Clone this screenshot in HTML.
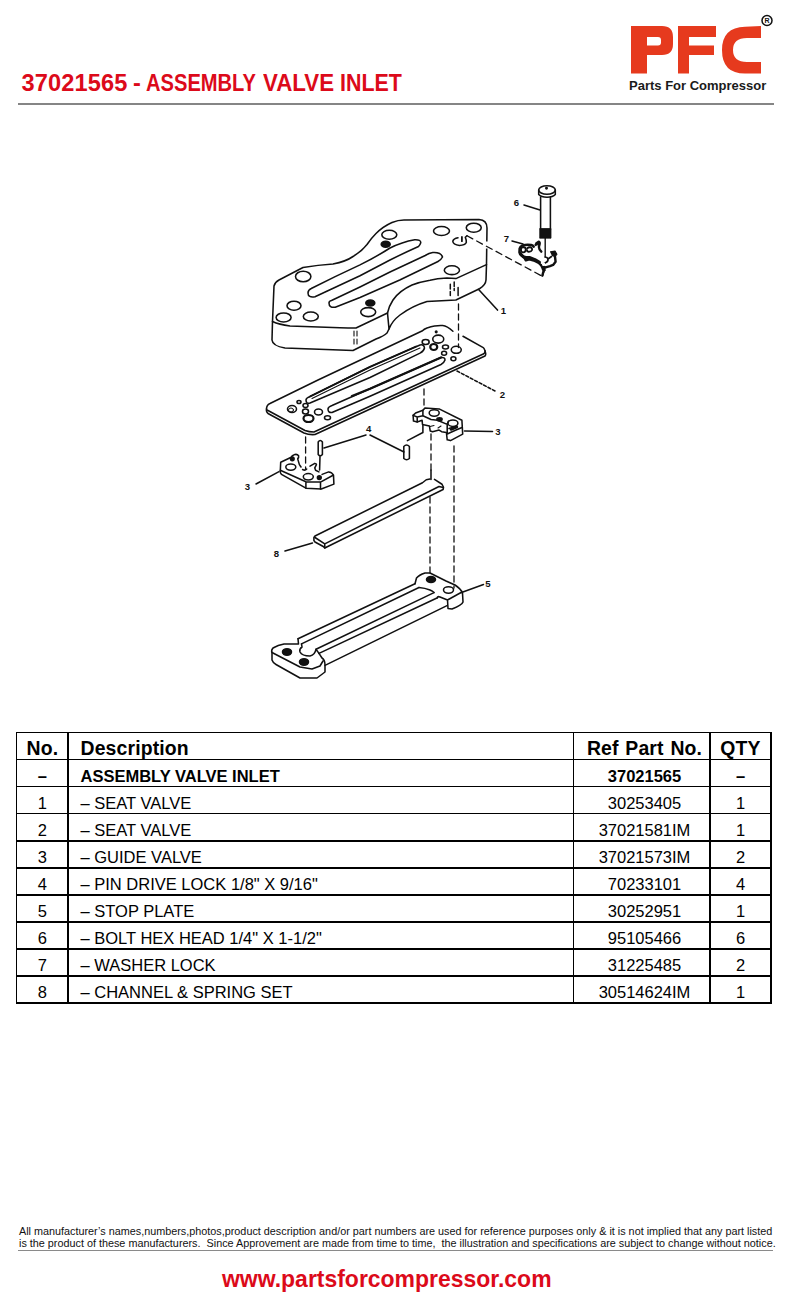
<!DOCTYPE html>
<html><head><meta charset="utf-8">
<style>
*{margin:0;padding:0;box-sizing:border-box}
html,body{width:800px;height:1300px;background:#fff;overflow:hidden}
body{position:relative;font-family:"Liberation Sans",sans-serif;color:#000}
.abs{position:absolute;white-space:nowrap}
#title{left:21.6px;top:68.6px;font-size:23.6px;font-weight:bold;color:#dc0a1a;line-height:28px}
#title span{position:absolute;top:0;transform-origin:0 0;white-space:nowrap}
#hline{left:17.5px;top:102.8px;width:756px;height:2px;background:#858585}
#tag{left:629px;top:78px;font-size:13px;font-weight:bold;color:#1a1a1a}
#logo{left:620px;top:10px}
.hl{position:absolute;left:15.9px;width:755.8px;height:1.4px;background:#000}
.vl{position:absolute;top:732px;width:1.4px;height:271.7px;background:#000}
.tr{position:absolute;left:0;height:27px;width:800px;font-size:16.5px;line-height:27px;padding-top:2.4px;white-space:nowrap}
.tr span{position:absolute;top:3px}
.th{font-size:19.4px;font-weight:bold}
.th span{top:2.2px;letter-spacing:0.15px}
.tb{font-weight:bold}
.th .c3{word-spacing:1.2px}
.c1{left:16.6px;width:51.5px;text-align:center}
.c2{left:80.5px}
.c3{left:576px;width:137px;text-align:center}
.c4{left:710px;width:61px;text-align:center}
#disc{left:19px;top:1225px;font-size:10.82px;line-height:12.2px;color:#111;white-space:pre}
#dline{left:18px;top:1249.8px;width:755px;height:1.1px;background:#8a8a8a}
#url{left:222px;top:1265.5px;font-size:23.2px;font-weight:bold;color:#dc0a1a;transform:scaleX(0.99);transform-origin:0 0}
</style></head><body>
<div id="title" class="abs"><span style="left:0;letter-spacing:0.1px">37021565</span><span style="left:111.5px">-</span><span style="left:124.4px;transform:scaleX(0.853)">ASSEMBLY</span><span style="left:241.2px;transform:scaleX(0.945)">VALVE</span><span style="left:318.2px;transform:scaleX(0.907)">INLET</span></div>
<div id="hline" class="abs"></div>
<svg id="logo" class="abs" width="170" height="70" viewBox="620 10 170 70">
<g fill="#e63a1e">
<path d="M631 26 H662 Q673 26 673 37 V44 Q673 55 662 55 H647 V73.6 H631 Z M647 37 V45.6 H658 Q661 45.6 661 42.6 V40 Q661 37 658 37 Z" fill-rule="evenodd"/>
<path d="M678 26 H716 V37 H689 V45.6 H714 V55 H689 V73.6 H678 Z"/>
<path d="M761 26 V38 H747 Q733 38 733 50 Q733 62 747 62 H761 V73.6 H745 Q722 73.6 722 50 Q722 27.5 745 26.8 Z"/>
</g>
<circle cx="767" cy="20.5" r="5" fill="none" stroke="#111" stroke-width="1.5"/>
<text x="767" y="23.2" font-size="7" font-weight="bold" text-anchor="middle" font-family="Liberation Sans" fill="#111">R</text>
</svg>
<div id="tag" class="abs">Parts For Compressor</div>

<div id="tbl">
<div class="hl" style="top:732.00px"></div>
<div class="hl" style="top:759.03px"></div>
<div class="hl" style="top:786.06px"></div>
<div class="hl" style="top:813.09px"></div>
<div class="hl" style="top:840.12px"></div>
<div class="hl" style="top:867.15px"></div>
<div class="hl" style="top:894.18px"></div>
<div class="hl" style="top:921.21px"></div>
<div class="hl" style="top:948.24px"></div>
<div class="hl" style="top:975.27px"></div>
<div class="hl" style="top:1002.30px"></div>
<div class="vl" style="left:15.90px"></div>
<div class="vl" style="left:67.40px"></div>
<div class="vl" style="left:572.50px"></div>
<div class="vl" style="left:709.30px"></div>
<div class="vl" style="left:770.30px"></div>
<div class="tr th" style="top:732.70px"><span class="c1">No.</span><span class="c2">Description</span><span class="c3">Ref Part No.</span><span class="c4">QTY</span></div>
<div class="tr tb" style="top:759.73px"><span class="c1">–</span><span class="c2">ASSEMBLY VALVE INLET</span><span class="c3">37021565</span><span class="c4">–</span></div>
<div class="tr " style="top:786.76px"><span class="c1">1</span><span class="c2">– SEAT VALVE</span><span class="c3">30253405</span><span class="c4">1</span></div>
<div class="tr " style="top:813.79px"><span class="c1">2</span><span class="c2">– SEAT VALVE</span><span class="c3">37021581IM</span><span class="c4">1</span></div>
<div class="tr " style="top:840.82px"><span class="c1">3</span><span class="c2">– GUIDE VALVE</span><span class="c3">37021573IM</span><span class="c4">2</span></div>
<div class="tr " style="top:867.85px"><span class="c1">4</span><span class="c2">– PIN DRIVE LOCK 1/8" X 9/16"</span><span class="c3">70233101</span><span class="c4">4</span></div>
<div class="tr " style="top:894.88px"><span class="c1">5</span><span class="c2">– STOP PLATE</span><span class="c3">30252951</span><span class="c4">1</span></div>
<div class="tr " style="top:921.91px"><span class="c1">6</span><span class="c2">– BOLT HEX HEAD 1/4" X 1-1/2"</span><span class="c3">95105466</span><span class="c4">6</span></div>
<div class="tr " style="top:948.94px"><span class="c1">7</span><span class="c2">– WASHER LOCK</span><span class="c3">31225485</span><span class="c4">2</span></div>
<div class="tr " style="top:975.97px"><span class="c1">8</span><span class="c2">– CHANNEL &amp; SPRING SET</span><span class="c3">30514624IM</span><span class="c4">1</span></div>
</div>

<div id="disc" class="abs">All manufacturer’s names,numbers,photos,product description and/or part numbers are used for reference purposes only &amp; it is not implied that any part listed<br>is the product of these manufacturers.  Since Approvement are made from time to time,  the illustration and specifications are subject to change without notice.</div>
<div id="dline" class="abs"></div>
<div id="url" class="abs">www.partsforcompressor.com</div>

<!--DIAGRAM-->
<svg class="abs" style="left:0;top:0" width="800" height="720" viewBox="0 0 800 720">
<g fill="none" stroke="#111" stroke-width="1.55" stroke-linecap="round" stroke-linejoin="round">
<!-- PLATE 1 top face -->
<path d="M272.5 321.5 L274 286 Q275 282 279 280 L303 267.5 Q318 265 333 264 Q346 261.5 353 256.5 Q362 251 367 244.5 Q371 238.5 376 233.5 Q383 226.5 392 222.5 Q398 220 404 220 L479 219.5 Q487 220 487 228 L486.5 264.6 L455.9 278.6 L446.9 278 Q437 278.5 430 280.3 Q420 282 412 285 Q399 291 393 300 Q389 306 387.5 313 L356 328 Q348 328 340 327.8 L290 326 Q279 324.5 272.5 321.5 Z"/>
<!-- plate 1 side -->
<path d="M272.5 321.5 L272 340 Q272.5 346 285 348 L353 350.5 L376 339 Q384 336 387 333 L389 329"/>
<path d="M387.5 313 L389 329 Q392 321 400 315 Q412 306 427 301.5 L455.9 300 L479.5 288.75 Q485.7 285 486 280 L486.5 264.6"/>
<!-- slots plate 1 -->
<path d="M311.25 288.5 Q336 276 360 264.9 Q376 257 390 248 Q402 242 414.75 239.75 Q421 239.5 420.75 242.75 Q420 245 418.5 246.5 Q404 253 390 260 L360 275.75 L315 296.75 Q308 298 308 293 Q308 290 311.25 288.5 Z"/>
<path d="M331.5 300.5 L360 287 L390 272 L425.25 255.5 Q429 253 432.75 252.5 Q441 252 442.5 257 Q441 260 438 261.5 L399.75 280 L360 297.5 L335.25 307.25 Q329 308 329 303 Q329 301 331.5 300.5 Z"/>
<!-- holes plate 1 -->
<ellipse cx="303.2" cy="276.5" rx="7.7" ry="5.3"/>
<ellipse cx="294" cy="305.7" rx="7" ry="4.5"/>
<ellipse cx="283.6" cy="317.4" rx="7.5" ry="4.5"/>
<ellipse cx="310.8" cy="316.5" rx="7.5" ry="4.5"/>
<ellipse cx="368.2" cy="312.1" rx="7.5" ry="4.5"/>
<ellipse cx="389.3" cy="234.75" rx="7.5" ry="4.5"/>
<ellipse cx="441.5" cy="231" rx="8" ry="4.5"/>
<ellipse cx="473.75" cy="227.7" rx="7.5" ry="4.5"/>
<path d="M458 237.8 Q453.5 238.6 452.8 241.3 Q453 244.8 459.5 245.4 Q465 245.2 466.3 242.5 Q466.6 240 465.3 237.3 L467 235.7"/>
<ellipse cx="451.9" cy="270.2" rx="7.6" ry="4.4"/>
<ellipse cx="385.7" cy="244.2" rx="4.5" ry="3" fill="#111"/>
<ellipse cx="370.3" cy="303" rx="4.5" ry="3" fill="#111"/>
<!-- hidden lines plate1 -->
<path d="M354 331 V336 M354 339 V344 M357 331 V336 M357 339 V344" stroke-width="1.1"/>
<path d="M450.3 284.3 V289 M450.3 291.5 V295.5 M454.2 282 V286.5 M454.2 288.5 V290.5 M458.1 287.6 V295.5" stroke-width="1.5"/>
<path d="M461.9 236.9 V241.2" stroke-width="1.8"/>

<!-- PLATE 2 -->
<path d="M452.9 331.25 Q447 326 442.75 325.6 Q437 325 427 327.9 Q424 329 422.5 330.7 L318 380 L270 403.5 Q266.5 405 266.5 409 Q266.5 410 268 410.5 L305 430.5 Q309 432 314 432 L483.8 353.75 Q486 352 484.9 350.4 Q484 348 483.25 347.6 L463 336.3"/>
<path d="M484.9 351 Q486.5 354 485 356 L315 434.5 Q309 435 304 433 L268 413.5 Q266 412 266.5 409"/>
<path d="M310 396.5 L370 366.9 L420 345 Q424 344 424.5 348 Q424 351 420 353.1 L370 377.5 L310 403 Q306 404 306 400 Q306 398 310 396.5 Z"/>
<path d="M312 398.5 L370 370 L420 348" stroke-width="1.1"/>
<path d="M332 405.5 L370 388.75 L441 357.5 Q445 357 445 360 Q444 363 441 364.5 L370 396.25 L332 412.5 Q328 413 328 409 Q328 407 332 405.5 Z"/>
<path d="M352 396 L370 388.75 L441 357.5" stroke-width="2.4"/>
<path d="M310 396.5 L370 366.9 L416 346.5" stroke-width="1.9"/>
<ellipse cx="292" cy="409" rx="4.5" ry="3.5"/>
<ellipse cx="291" cy="410" rx="2.5" ry="2" stroke-width="1"/>
<ellipse cx="299" cy="402" rx="2" ry="1.5"/>
<ellipse cx="305.5" cy="405.5" rx="2.5" ry="2"/>
<ellipse cx="305.5" cy="411.5" rx="3" ry="2.5"/>
<ellipse cx="308.5" cy="418.5" rx="5" ry="3.5" stroke-width="2.2"/>
<ellipse cx="318.5" cy="412" rx="4" ry="3"/>
<ellipse cx="327.5" cy="417.8" rx="3" ry="2"/>
<ellipse cx="438.25" cy="339.1" rx="5.5" ry="4"/>
<circle cx="436.2" cy="331.8" r="0.8" fill="#111"/>
<ellipse cx="425.65" cy="341.9" rx="3.5" ry="2.5"/>
<ellipse cx="433.75" cy="347" rx="3.5" ry="3" stroke-width="2.2"/>
<ellipse cx="445.5" cy="347" rx="3" ry="2"/>
<ellipse cx="456.25" cy="349.8" rx="5" ry="3.5"/>
<ellipse cx="444.1" cy="353.2" rx="2.5" ry="2"/>
<ellipse cx="453.4" cy="358.8" rx="2.5" ry="2"/>

<rect x="485" y="241.5" width="3" height="7" fill="#fff" stroke="none"/>
<!-- dashed lines -->
<g stroke-dasharray="6 4" stroke-width="1.3">
<path d="M467 235.8 L542 276.1" stroke-dasharray="6.5 4.5"/>
<path d="M458.5 304 V347.5"/>
<path d="M424 389 V408"/>
<path d="M305.6 437 V469"/>
<path d="M431 434 V470 M430 497 V575"/>
<path d="M454 446 V588"/>
</g>
<path d="M542.4 275.8 L544.4 269.9"/>

<!-- leaders -->
<path d="M524 205 L540 210"/>
<path d="M512 241 L523 244"/>
<path d="M478.4 289.3 L497.5 310.1"/>
<path d="M457 371 L495 391" stroke-dasharray="3 2"/>
<path d="M464.5 431 L492.5 431.4"/>
<path d="M366 435 L324 448 M370 435 L404 452"/>
<path d="M256 484 L279 471.6"/>
<path d="M285 551 L312.5 543"/>
<path d="M461.5 592.5 L483.5 584.5"/>
<path d="M407.4 440.6 L422.9 432.5 V425.2"/>

<!-- BOLT 6 -->
<ellipse cx="547" cy="190" rx="8.3" ry="4.3"/>
<path d="M538.7 190 V194.5 Q541 197.2 547 197.3 Q553 197.2 555.3 194.5 V190"/>
<circle cx="546.5" cy="188.3" r="0.7" fill="#111"/>
<path d="M540.6 197 V229.5 M550.4 197 V229.5"/>
<rect x="540" y="228.5" width="11" height="9.7" fill="#111" stroke-width="0.8"/>
<path d="M545.2 238 V257" stroke-width="1.4"/>
<!-- WASHER 7 -->
<g stroke-width="2.4">
<path d="M533.75 246.75 Q533 245.3 531.25 245 Q527 244.3 522.5 245.3 Q520 246.3 519.6 248.5 L519.4 252.4 Q519.8 254.5 520.8 255 L524.4 258 L525.8 260.3 L529.4 259.3 L533.75 260.5 L538.75 263 L541.25 265.5 L542.5 268 L543.6 270.8 L543 273 L542.4 275.5"/>
<path d="M521 249 Q521.5 247 523.5 247 Q525.8 247.3 525.8 249.6 Q525.6 252.2 523.3 252.4 Q521.2 252.3 521 250.5 Z" stroke-width="1.9"/>
<path d="M527.2 248.3 Q528.5 246.9 530.6 247.3 Q532.4 248 532 250 Q531.3 251.9 528.6 251.8 Q527 251.6 527 250.2" stroke-width="1.9"/>
<path d="M535.6 244.9 Q536.3 242.5 538.4 241.8 Q540 242 539.7 243.8 L538.9 247 Q539 249.3 541.3 251.7" />
<path d="M536.5 242.5 L539 242.2 L539.2 244.5 L537 245 Z" fill="#111" stroke-width="1"/>
<path d="M520.5 253.5 Q523 257 526 257.5 L530 257.5 L535 259.5 L539.5 262.3" stroke-width="2.8"/>
<path d="M545.6 267.4 L550 266.1 L553.1 264.9 L555.6 261.75 L555 256.75"/>
<path d="M550.6 251.75 L555 251.1 L556.9 254.25 L555 256.75 L552.5 255.5 Z" fill="#111" stroke-width="1.2"/>
<path d="M545.2 257 Q547.5 257.3 548 259 Q548.3 261.5 545.5 262.8 L543.5 263.8 M548 259 L551.5 256.5 M541.5 265 Q543 266.5 545.6 267.4" stroke-width="1.7"/>
<path d="M543.3 266 L544.5 270" stroke-width="2.6"/>
</g>
<ellipse cx="543.6" cy="264.2" rx="1.6" ry="1.9" fill="#fff" stroke="none"/>
<path d="M320 456.5 L319.6 470"/>
<!-- PIN 4 left -->
<path d="M318.2 442 Q320.2 438.8 322.4 442 V454.5 Q320.2 457 318.2 454.5 Z"/>
<!-- PIN 4 right -->
<path d="M403.8 446.5 Q406.6 443.6 409.4 446.5 V458.5 Q406.6 461 403.8 458.5 Z"/>

<!-- GUIDE 3 left -->
<path d="M280.7 462.2 L291.2 457.3 Q292 455.5 293.7 454.9 Q296.9 453.5 298.6 455.7 Q299 457.5 297.7 458.9 L299.4 464.6 L301 467 M310 466.2 L314.8 463.4 Q316.5 463.5 316.4 464.6 L314.8 467.9 L315.6 470.3 L318.9 471.9 M322.1 474.4 L328.6 471.9 Q332 472 333.5 475.2 L333.9 484.1 L321.3 489 L305.9 488.2 L281.5 474.4 Q280 473 280.3 471.1 L280.7 462.2"/>
<path d="M302.6 469.5 Q305 471 306.7 469.1"/>
<path d="M280.3 470.3 L305.9 481.7 L320.5 482.1 L333.1 475.2 M305.9 481.7 V488.2 M320.5 482.1 V489"/>
<ellipse cx="290.8" cy="467.1" rx="5" ry="3.2"/>
<ellipse cx="308.3" cy="476.8" rx="5" ry="3.2"/>
<circle cx="292.3" cy="458.8" r="1.8" fill="#111"/>
<circle cx="319.3" cy="477.6" r="1.9" fill="#111"/>

<!-- GUIDE 3 right -->
<path d="M413.1 415.4 L415.6 413 L422.9 410.2 L424.9 408.1 L439.1 408.9 L461.9 420.3 L462.7 434.1 L450.5 440.6 L447.2 439.8 L446.4 432.5 L441.6 431.7 L439.1 430.1 L432.6 431.7 L430.2 430.9 L429.4 426 L422.5 424.4 L422.1 420.3 L417.2 421.9 L413.5 421.1 Z"/>
<path d="M413.1 415.4 L417.2 417 L422.9 415.8 M417.2 417 V421.9 M422.9 410.2 L422.9 415.8 L431 419.5 L437.5 420.3 L447.2 424.4 L448.5 421.1 M447.2 424.4 L447.2 432.5 M447.2 434 L456 430 L462 427.5 M449 428.5 L457 426"/>
<path d="M430 426.5 L434 425.5 M438 428 L441 426" stroke-width="1.1"/>
<ellipse cx="434.2" cy="413" rx="5" ry="3.2"/>
<ellipse cx="452.9" cy="423.2" rx="5" ry="3.2"/>
<ellipse cx="439.5" cy="419.3" rx="2.6" ry="1.5" fill="#111"/>
<path d="M451 429.5 L457 427" stroke-width="2.5"/>

<!-- CHANNEL 8 -->
<path d="M430 479 L426.25 479.75 L422.5 482.75 L315 536 L313.9 537.5 L313.9 540.5 L315 542 L323.25 546.5 L324.75 548 L441.6 490.25 L443.1 489.5 L443.5 487.25 L442 484.25 L434.5 479.4"/>
<path d="M315 537.5 L324.75 543.9 L439 486.5 L443.3 487.5 M324.75 543.9 V548"/>
<path d="M431 470 V479.5"/>

<!-- STOP PLATE 5 -->
<path d="M298 638.7 L298.5 644 L284 644 Q278 645 273 648 Q271 650 272 653 L272 660 Q273 663 276 664.5 L300 678 L317 678 L325 672 L325 665 Q325 660 322 658 L319 653.4"/>
<path d="M272 652.5 L300 667 L312 669 L320 666 L323 661"/>
<path d="M301.5 643.9 L302 647 Q299 649 300 652 Q302 656 310 656 Q315 655 316 649.2 L319 653.4"/>
<ellipse cx="287" cy="652" rx="4.5" ry="3.2" fill="#111"/>
<ellipse cx="304" cy="662" rx="4.5" ry="3.2" fill="#111"/>
<path d="M298 638.7 L415 583.8 M301.5 643.9 L419 587.5 M316 649.2 L434 592.6 M319 653.4 L437.5 597.8 M325 665.4 L447 605.6"/>
<path d="M415 583.8 L416.5 578 Q419 575 425 573 L430 573 L446 581 L455 585 Q461 589 462.5 593 L463 602 Q462 605 452 609 L448 608.5 L447.5 600 L440 597 Q437 596 437.5 597.8 M447.5 600 L462 592"/>
<path d="M419 587.5 Q425 588 430 590 Q434 592 434 592.6"/>
<ellipse cx="431" cy="579.5" rx="4.5" ry="3" fill="#111"/>
<ellipse cx="448.5" cy="590" rx="5" ry="3.2"/>
</g>
<g font-family="Liberation Sans" font-size="9.6" font-weight="bold" fill="#111" text-anchor="middle">
<text x="516.5" y="206">6</text>
<text x="506.5" y="242">7</text>
<text x="503.5" y="314">1</text>
<text x="502.4" y="397.5">2</text>
<text x="498" y="434.5">3</text>
<text x="368.6" y="432.3">4</text>
<text x="247.5" y="490">3</text>
<text x="276.3" y="557.4">8</text>
<text x="487.9" y="586.8">5</text>
</g>
</svg>

<!--/DIAGRAM-->
</body></html>
